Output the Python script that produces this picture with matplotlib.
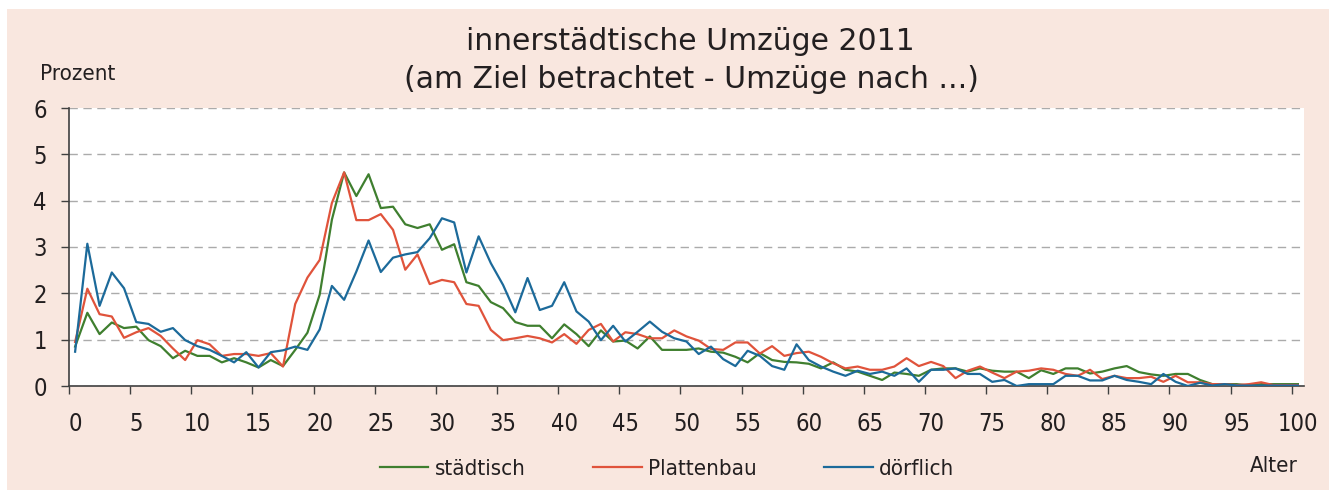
import matplotlib
matplotlib.use("Agg")
import matplotlib.pyplot as plt
from matplotlib.patches import Rectangle
from matplotlib.lines import Line2D
import numpy as np

#---DATA---
# share of moves (percent) by age of the mover, ages 0..100
alter = list(range(0, 101))

staedtisch = [0.85, 1.58, 1.12, 1.37, 1.25, 1.28, 0.99, 0.86, 0.60, 0.76,
              0.65, 0.65, 0.51, 0.60, 0.51, 0.40, 0.56, 0.43, 0.78, 1.15,
              1.97, 3.59, 4.61, 4.10, 4.57, 3.84, 3.87, 3.49, 3.41, 3.49,
              2.94, 3.06, 2.24, 2.16, 1.81, 1.68, 1.38, 1.30, 1.30, 1.03,
              1.33, 1.12, 0.86, 1.20, 0.96, 0.98, 0.81, 1.07, 0.78, 0.78,
              0.78, 0.81, 0.74, 0.72, 0.63, 0.51, 0.71, 0.56, 0.52, 0.51,
              0.48, 0.38, 0.51, 0.35, 0.31, 0.22, 0.13, 0.29, 0.26, 0.22,
              0.35, 0.38, 0.38, 0.31, 0.38, 0.33, 0.31, 0.31, 0.17, 0.34,
              0.26, 0.38, 0.38, 0.27, 0.31, 0.38, 0.43, 0.30, 0.25, 0.22,
              0.26, 0.26, 0.13, 0.04, 0.04, 0.04, 0.01, 0.04, 0.04, 0.04,
              0.04]

plattenbau = [0.95, 2.10, 1.55, 1.50, 1.04, 1.16, 1.25, 1.08, 0.81, 0.56,
              0.99, 0.90, 0.65, 0.69, 0.69, 0.65, 0.71, 0.42, 1.77, 2.34,
              2.72, 3.95, 4.61, 3.58, 3.58, 3.71, 3.37, 2.51, 2.84, 2.20,
              2.29, 2.24, 1.77, 1.73, 1.21, 0.99, 1.03, 1.08, 1.03, 0.94,
              1.12, 0.91, 1.21, 1.34, 0.96, 1.16, 1.12, 1.03, 1.03, 1.20,
              1.07, 0.98, 0.80, 0.78, 0.94, 0.94, 0.70, 0.86, 0.65, 0.71,
              0.74, 0.63, 0.49, 0.38, 0.42, 0.35, 0.35, 0.42, 0.60, 0.43,
              0.52, 0.43, 0.17, 0.33, 0.42, 0.29, 0.17, 0.31, 0.33, 0.38,
              0.35, 0.26, 0.22, 0.35, 0.15, 0.22, 0.17, 0.17, 0.20, 0.09,
              0.22, 0.08, 0.08, 0.04, 0.04, 0.02, 0.04, 0.08, 0.02, 0.02,
              0.02]

doerflich = [0.74, 3.07, 1.73, 2.45, 2.11, 1.38, 1.34, 1.17, 1.25, 0.99,
             0.86, 0.78, 0.65, 0.51, 0.73, 0.40, 0.73, 0.77, 0.85, 0.78,
             1.22, 2.16, 1.86, 2.47, 3.14, 2.46, 2.77, 2.84, 2.89, 3.19,
             3.62, 3.53, 2.45, 3.23, 2.65, 2.18, 1.59, 2.33, 1.64, 1.73,
             2.24, 1.61, 1.39, 0.99, 1.30, 0.96, 1.17, 1.39, 1.17, 1.03,
             0.96, 0.69, 0.85, 0.58, 0.43, 0.76, 0.65, 0.43, 0.35, 0.90,
             0.56, 0.42, 0.31, 0.22, 0.33, 0.26, 0.31, 0.22, 0.38, 0.09,
             0.35, 0.35, 0.38, 0.26, 0.26, 0.09, 0.13, 0.00, 0.04, 0.04,
             0.04, 0.22, 0.22, 0.12, 0.12, 0.22, 0.13, 0.09, 0.04, 0.26,
             0.09, 0.00, 0.07, 0.01, 0.04, 0.01, 0.01, 0.01, 0.01, 0.01,
             0.01]

serien = ["städtisch", "Plattenbau", "dörflich"]
farben = ["#3F7F2F", "#E0533B", "#1C6A9A"]

x_labels = list(range(0, 101, 5))
y_labels = list(range(0, 7))

#---STYLE---
# narrow face if there is one, else the condensed DejaVu cut
plt.rcParams["font.family"] = ["Liberation Sans Narrow", "DejaVu Sans"]
plt.rcParams["font.stretch"] = "condensed"
text_col = "#231F20"
bg_col = "#F9E7DF"

fig = plt.figure(figsize=(13.35, 4.9), dpi=100, facecolor=bg_col)

# white margins of the clipped page at top, left and right
fig.patches.append(Rectangle((0, 1 - 9 / 490), 1, 9 / 490, transform=fig.transFigure,
                             facecolor="white", edgecolor="none", zorder=-1))
fig.patches.append(Rectangle((0, 0), 7 / 1335, 1, transform=fig.transFigure,
                             facecolor="white", edgecolor="none", zorder=-1))
fig.patches.append(Rectangle((1329 / 1335, 0), 6 / 1335, 1, transform=fig.transFigure,
                             facecolor="white", edgecolor="none", zorder=-1))

ax = fig.add_axes([69 / 1335, 1 - 386 / 490, 1235 / 1335, 278 / 490])
ax.set_facecolor("white")

for werte, name, col in zip([staedtisch, plattenbau, doerflich], serien, farben):
    ax.plot(alter, werte, color=col, lw=1.6, label=name, zorder=3)

ax.set_xlim(-0.5, 100.5)
ax.set_ylim(0, 6)

# category axis: labels on the ages, tick marks between the groups
ax.set_xticks(x_labels)
ax.set_xticklabels([str(v) for v in x_labels])
ax.set_xticks(np.arange(-0.5, 100, 5), minor=True)
ax.tick_params(axis="x", which="major", length=0, pad=19, labelsize=17, colors=text_col)
ax.tick_params(axis="x", which="minor", length=6, width=1, color="#404040", direction="out")

ax.set_yticks(y_labels)
ax.tick_params(axis="y", length=6, width=1, color="#404040", pad=10, labelsize=17,
               labelcolor=text_col)

ax.grid(axis="y", color="#ABABAB", lw=1, linestyle=(0, (6, 4)), zorder=1)
for s in ["top", "right"]:
    ax.spines[s].set_visible(False)
for s in ["left", "bottom"]:
    ax.spines[s].set_color("#404040")
    ax.spines[s].set_linewidth(1.2)

#---TEXTS---
# title set wider than the axis labels
fig.text(690 / 1335, 1 - 42 / 490, "innerstädtische Umzüge 2011", ha="center", va="center",
         fontsize=21.5, fontstretch="normal", color=text_col)
fig.text(691 / 1335, 1 - 80 / 490, "(am Ziel betrachtet - Umzüge nach ...)", ha="center",
         va="center", fontsize=21.5, fontstretch="normal", color=text_col)
fig.text(40 / 1335, 1 - 74 / 490, "Prozent", ha="left", va="center", fontsize=16, color=text_col)
fig.text(1298 / 1335, 1 - 466 / 490, "Alter", ha="right", va="center", fontsize=16, color=text_col)

handles = [Line2D([], [], color=c, lw=1.6) for c in farben]
fig.legend(handles, serien, loc="center", bbox_to_anchor=(667 / 1335, 1 - 469 / 490), ncol=3,
           frameon=False, fontsize=16, handlelength=2.2, handletextpad=0.3,
           columnspacing=3.0, labelcolor=text_col)

fig.savefig("out.png", dpi=100, facecolor=bg_col)
